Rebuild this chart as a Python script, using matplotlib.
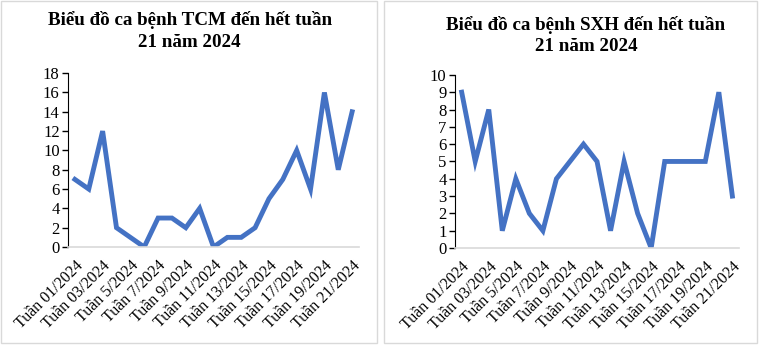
import matplotlib.pyplot as plt
from matplotlib.patches import Rectangle

plt.rcParams['font.family'] = ['Liberation Serif', 'DejaVu Serif']

# weekly case counts, weeks 1..21 of 2024
weeks = list(range(1, 22))
week_labels = ["Tuần 01/2024", "Tuần 03/2024", "Tuần 5/2024", "Tuần 7/2024",
               "Tuần 9/2024", "Tuần 11/2024", "Tuần 13/2024", "Tuần 15/2024",
               "Tuần 17/2024", "Tuần 19/2024", "Tuần 21/2024"]
tcm_cases = [7, 6, 12, 2, 1, 0, 3, 3, 2, 4, 0, 1, 1, 2, 5, 7, 10, 6, 16, 8, 14]
sxh_cases = [9, 5, 8, 1, 4, 2, 1, 4, 5, 6, 5, 1, 5, 2, 0, 5, 5, 5, 5, 9, 3]

tcm_title = "Biểu đồ ca bệnh TCM đến hết tuần\n21 năm 2024"
sxh_title = "Biểu đồ ca bệnh SXH đến hết tuần\n21 năm 2024"

line_color = "#4472C4"
grey = "#D9D9D9"

fig = plt.figure(figsize=(7.62, 3.45), dpi=100)

# chart frames
fig.patches.append(Rectangle((0.001, 0.006), 0.494, 0.99, transform=fig.transFigure,
                             fill=False, edgecolor=grey, linewidth=1))
fig.patches.append(Rectangle((0.504, 0.006), 0.49, 0.99, transform=fig.transFigure,
                             fill=False, edgecolor=grey, linewidth=1))


def draw_panel(rect, values, ymax, ystep, title, title_xy):
    ax = fig.add_axes(rect)
    ax.plot(weeks, values, color=line_color, linewidth=3.5, solid_joinstyle='miter')
    ax.set_xlim(0.5, 21.5)
    ax.set_ylim(0, ymax)
    ax.set_yticks(range(0, ymax + 1, ystep))
    ax.set_xticks(weeks[::2])
    ax.set_xticklabels(week_labels, rotation=45, ha='right', va='top',
                       rotation_mode='anchor', fontsize=11.5)
    ax.tick_params(axis='x', length=0, pad=7.5)
    ax.tick_params(axis='y', length=4, width=1, direction='out', labelsize=12, pad=2)
    for side in ('top', 'right'):
        ax.spines[side].set_visible(False)
    ax.spines['left'].set_color('black')
    ax.spines['bottom'].set_color(grey)
    ax.spines['bottom'].set_linewidth(1.2)
    fig.text(title_xy[0], title_xy[1], title, ha='center', va='top',
             fontsize=13.7, fontweight='bold', linespacing=1.35)
    return ax


draw_panel([0.0892, 0.284, 0.382, 0.504], tcm_cases, 18, 2, tcm_title, (0.249, 0.968))
draw_panel([0.597, 0.281, 0.373, 0.502], sxh_cases, 10, 1, sxh_title, (0.769, 0.955))

fig.savefig("out.png", dpi=100)
